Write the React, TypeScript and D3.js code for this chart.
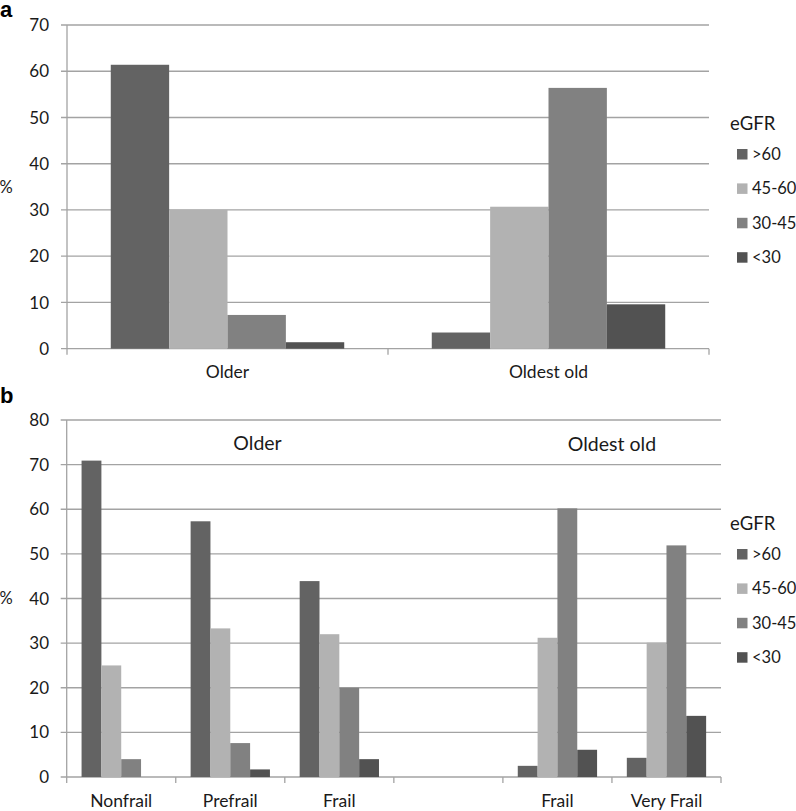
import React from "react";
import * as d3 from "d3";

const series = [">60", "45-60", "30-45", "<30"];
const seriesColors = ["#636363", "#b2b2b2", "#818181", "#525252"];

const catsA = ["Older", "Oldest old"];
const valuesA: number[][] = [
  [61.4, 30.0, 7.3, 1.4],
  [3.5, 30.7, 56.4, 9.6],
];
const ticksA = [0, 10, 20, 30, 40, 50, 60, 70];

const catKeysB = ["nf", "pf", "fr", "gap", "fr2", "vf"];
const catLabelsB = ["Nonfrail", "Prefrail", "Frail", "", "Frail", "Very Frail"];
const valuesB: (number | null)[][] = [
  [70.9, 25.0, 4.0, null],
  [57.3, 33.3, 7.6, 1.7],
  [43.9, 32.0, 20.0, 4.0],
  [null, null, null, null],
  [2.5, 31.2, 60.2, 6.1],
  [4.3, 30.1, 51.9, 13.7],
];
const ticksB = [0, 10, 20, 30, 40, 50, 60, 70, 80];
const groupLabelsB = ["Older", "Oldest old"];

const FONT = "Lato, 'Open Sans', sans-serif";
const GRID = "#a3a3a3";

type PanelProps = {
  letter: string;
  letterY: number;
  keys: string[];
  labels: string[];
  values: (number | null)[][];
  ticks: number[];
  x0: number;
  x1: number;
  yTop: number;
  yBottom: number;
  labelY: number;
  legendTop: number;
};

function Panel(p: PanelProps) {
  const x = d3.scaleBand<string>().domain(p.keys).range([p.x0, p.x1]).padding(0);
  const xi = d3
    .scaleBand<string>()
    .domain(series)
    .range([0, x.bandwidth()])
    .paddingInner(0)
    .paddingOuter(0.75);
  const maxT = p.ticks[p.ticks.length - 1];
  const y = d3.scaleLinear().domain([0, maxT]).range([p.yBottom, p.yTop]);
  const boundaries = p.keys.map((k) => x(k)!).concat([p.x1]);
  const midY = (p.yTop + p.yBottom) / 2;
  return (
    <g>
      <text x={0} y={p.letterY} fontFamily="Arial, 'Liberation Sans', sans-serif" fontWeight="bold" fontSize={22} fill="#000">
        {p.letter}
      </text>
      {p.ticks.map((t) => (
        <g key={t}>
          <line x1={p.x0 - 6} x2={p.x1} y1={y(t)} y2={y(t)} stroke={GRID} strokeWidth={1.3} />
          <text
            x={49}
            y={y(t)}
            dy="0.36em"
            textAnchor="end"
            fontFamily={FONT}
            fontSize={17}
            fill="#1a1a1a"
          >
            {t}
          </text>
        </g>
      ))}
      <line x1={p.x0} x2={p.x0} y1={p.yTop} y2={p.yBottom} stroke={GRID} strokeWidth={1.3} />
      {boundaries.map((b, i) => (
        <line key={i} x1={b} x2={b} y1={p.yBottom} y2={p.yBottom + 6} stroke={GRID} strokeWidth={1.3} />
      ))}
      <text x={6} y={midY} dy="0.36em" textAnchor="middle" fontFamily={FONT} fontSize={16.5} fill="#1a1a1a">
        %
      </text>
      {p.values.map((row, ci) =>
        row.map((v, si) =>
          v == null ? null : (
            <rect
              key={`${ci}-${si}`}
              x={x(p.keys[ci])! + xi(series[si])!}
              y={y(v)}
              width={xi.bandwidth()}
              height={y(0) - y(v)}
              fill={seriesColors[si]}
            />
          )
        )
      )}
      {p.labels.map((l, i) =>
        l ? (
          <text
            key={i}
            x={x(p.keys[i])! + x.bandwidth() / 2}
            y={p.labelY}
            dy="0.36em"
            textAnchor="middle"
            fontFamily={FONT}
            fontSize={17.5}
            fill="#1a1a1a"
          >
            {l}
          </text>
        ) : null
      )}
      <text x={730} y={p.legendTop} dy="0.36em" fontFamily={FONT} fontSize={18.5} fill="#1a1a1a">
        eGFR
      </text>
      {series.map((s, i) => {
        const cy = p.legendTop + 31 + i * 34.4;
        return (
          <g key={s}>
            <rect x={737} y={cy - 5} width={10.5} height={10.5} fill={seriesColors[i]} />
            <text x={752} y={cy} dy="0.36em" fontFamily={FONT} fontSize={16.5} fill="#1a1a1a">
              {s}
            </text>
          </g>
        );
      })}
    </g>
  );
}

export default function App() {
  const xB = d3.scaleBand<string>().domain(catKeysB).range([66.7, 721]).padding(0);
  return (
    <svg
      width={796}
      height={811}
      style={{ position: "absolute", left: 0, top: 0, background: "#fff" }}
    >
      <rect width={796} height={811} fill="#fff" />
      <Panel
        letter="a"
        letterY={17}
        keys={catsA}
        labels={catsA}
        values={valuesA}
        ticks={ticksA}
        x0={67}
        x1={709}
        yTop={25}
        yBottom={348.7}
        labelY={372}
        legendTop={123}
      />
      <Panel
        letter="b"
        letterY={403}
        keys={catKeysB}
        labels={catLabelsB}
        values={valuesB}
        ticks={ticksB}
        x0={66.7}
        x1={721}
        yTop={420}
        yBottom={777}
        labelY={801}
        legendTop={523}
      />
      <text
        x={xB("pf")! + xB.bandwidth() * 0.75}
        y={442.5}
        dy="0.36em"
        textAnchor="middle"
        fontFamily={FONT}
        fontSize={19.5}
        fill="#1a1a1a"
      >
        {groupLabelsB[0]}
      </text>
      <text
        x={xB("fr2")! + xB.bandwidth()}
        y={443.5}
        dy="0.36em"
        textAnchor="middle"
        fontFamily={FONT}
        fontSize={19.5}
        fill="#1a1a1a"
      >
        {groupLabelsB[1]}
      </text>
    </svg>
  );
}
